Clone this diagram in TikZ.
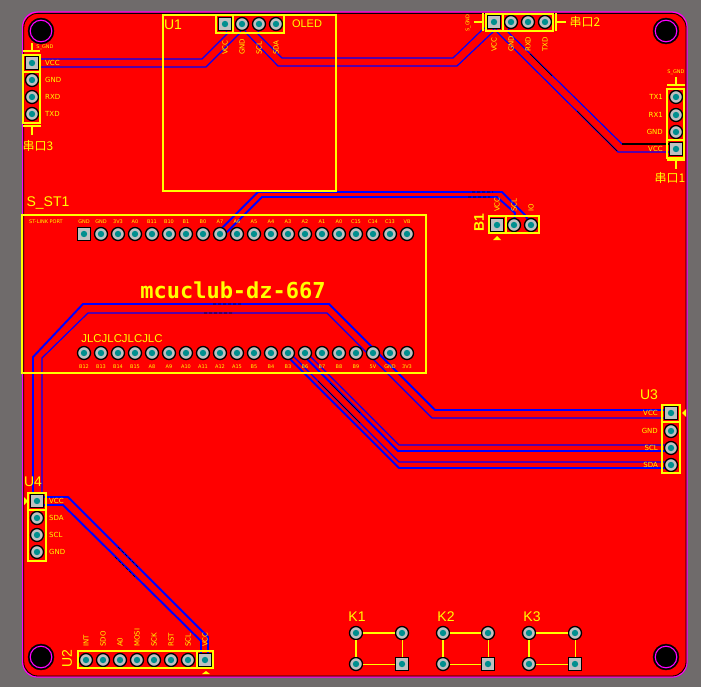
\documentclass[tikz,border=0pt]{standalone}
\usepackage{fontspec}
\usepackage{xcolor}
\usepackage{tikz}
\usetikzlibrary{backgrounds}
\setmainfont{Liberation Sans}
\newfontfamily\cjkfont{Noto Sans CJK SC}
\newfontfamily\dejafont{DejaVu Sans}
\newfontfamily\monofont{DejaVu Sans Mono}
\definecolor{bggray}{HTML}{6F6B6B}
\definecolor{padgray}{HTML}{C0C0C0}
\definecolor{padteal}{HTML}{008F8F}
\definecolor{pcbred}{HTML}{FF0000}
\definecolor{silkyellow}{HTML}{FFFF00}
\definecolor{edgepink}{HTML}{FF00FF}
\definecolor{copperblue}{HTML}{0000FF}

\begin{document}
\begin{tikzpicture} [x = 1pt, y = -1pt,
        pad/.style = {circle, draw = black, fill = padgray, line width = 1.3pt,
            minimum size = 13pt, inner sep = 0pt,
            path picture = {\fill [padteal] (path picture bounding box.center) circle (3.2pt);}},
        padsq/.style = {pad, rectangle, draw = black, minimum size = 12.5pt},
        hole/.style = {circle, draw = black, fill = black, minimum size = 26pt, inner sep = 0pt,
            path picture = {\draw [edgepink, line width = 1.1pt] (path picture bounding box.center) circle (10.8pt);}},
        silk/.style = {draw = silkyellow, line width = 1.6pt},
        silkthin/.style = {draw = silkyellow, line width = 1pt},
        trace/.style = {draw = copperblue, line width = 1.9pt, line join = miter},
        tracethin/.style = {draw = copperblue, line width = 1.2pt, line join = miter},
        tracedark/.style = {draw = black, line width = 0.7pt},
        refdes/.style = {text = silkyellow, font = \fontsize{14}{14}\selectfont},
        cjklabel/.style = {text = silkyellow, inner sep = 0pt, font = \cjkfont\fontsize{12}{12}\selectfont},
        pinlabel/.style = {text = silkyellow, inner sep = 0pt, font = \dejafont\fontsize{7}{7}\selectfont},
        tinylabel/.style = {text = silkyellow, inner sep = 0pt, font = \dejafont\fontsize{5}{5}\selectfont}]
    \useasboundingbox (0, 0) rectangle (701, 687);

    % mounting holes
    \foreach \n/\x/\y in {A/41/31, B/666/31, C/41/657, D/666/657}
        \node (hole\n) [hole] at (\x, \y) {};

    % header on the left
    \foreach \k/\y/\t [count = \i] in {padsq/63/VCC, pad/80/GND, pad/97/RXD, pad/114/TXD} {
        \node (Jthreep\i) [\k] at (32, \y) {};
        \node (Jthreet\i) [pinlabel, anchor = west] at (45, \y) {\t};
    }
    \draw [silk] (23, 55) rectangle (40, 123) (23, 72) -- (40, 72);
    \draw [silk] (23, 51) -- (40, 51) (32, 51) -- (32, 43);
    \draw [silk] (23, 126) -- (41, 126) (32, 126) -- (32, 135);
    \node (Jthreename) [cjklabel] at (38, 146) {串口3};
    \node (Jthreegnd) [tinylabel] at (45, 47) {S\_GND};

    % OLED module
    \foreach \k/\x/\t [count = \i] in {padsq/225/VCC, pad/242/GND, pad/259/SCL, pad/276/SDA} {
        \node (Uonep\i) [\k] at (\x, 24) {};
        \node (Uonet\i) [pinlabel, rotate = 90, anchor = west] at (\x, 55) {\t};
    }
    \draw [silk] (163, 15) rectangle (336, 191);
    \draw [silk] (216, 15) rectangle (284, 33) (233, 15) -- (233, 33);
    \node (Uonename) [refdes] at (173, 25) {U1};
    \node (Uoneoled) [text = silkyellow, font = \fontsize{11}{11}\selectfont] at (307, 24) {OLED};

    % header on top
    \foreach \k/\x/\t [count = \i] in {padsq/494/VCC, pad/511/GND, pad/528/RXD, pad/545/TXD} {
        \node (Jtwop\i) [\k] at (\x, 22) {};
        \node (Jtwot\i) [pinlabel, rotate = 90, anchor = west] at (\x, 52) {\t};
    }
    \draw [silk] (486, 14) rectangle (553, 31) (503, 14) -- (503, 31);
    \draw [silk] (483, 13) -- (483, 31) (483, 22) -- (474, 22);
    \draw [silk] (556, 13) -- (556, 31) (556, 22) -- (566, 22);
    \node (Jtwoname) [cjklabel] at (585, 22) {串口2};
    \node (Jtwognd) [tinylabel, rotate = 90] at (468, 23) {S\_GND};

    % header on the right
    \foreach \k/\y/\t [count = \i] in {pad/97/TX1, pad/115/RX1, pad/132/GND, padsq/149/VCC} {
        \node (Jonep\i) [\k] at (676, \y) {};
        \node (Jonet\i) [pinlabel, anchor = east] at (663, \y) {\t};
    }
    \draw [silk] (667, 89) rectangle (684, 158) (667, 140) -- (684, 140);
    \draw [silk] (667, 85) -- (685, 85) (676, 85) -- (676, 77);
    \draw [silk] (667, 160) -- (685, 160) (676, 160) -- (676, 169);
    \node (Jonename) [cjklabel] at (670, 178) {串口1};
    \node (Jonegnd) [tinylabel] at (676, 72) {S\_GND};

    % B1
    \foreach \k/\x/\t [count = \i] in {padsq/497/VCC, pad/514/SCL, pad/531/IO} {
        \node (Bonep\i) [\k] at (\x, 225) {};
        \node (Bonet\i) [pinlabel, rotate = 90, anchor = west] at (\x, 212) {\t};
    }
    \draw [silk] (489, 216) rectangle (539, 233) (506, 216) -- (506, 233);
    \node (Bonename) [refdes, rotate = 90, font = \bfseries\fontsize{14}{14}\selectfont] at (479, 223) {B1};
    \fill [silkyellow] (497, 236) -- (501, 240) -- (493, 240) -- cycle;

    % core board
    \foreach \t [count = \i, evaluate = \i as \x using 67 + 17 * \i] in
        {GND, GND, 3V3, A0, B11, B10, B1, B0, A7, A6, A5, A4, A3, A2, A1, A0, C15, C14, C13, VB} {
        \ifnum\i=1 \node (Topp\i) [padsq] at (\x, 234) {};
        \else \node (Topp\i) [pad] at (\x, 234) {}; \fi
        \node (Topt\i) [tinylabel] at (\x, 222) {\t};
    }
    \foreach \t [count = \i, evaluate = \i as \x using 67 + 17 * \i] in
        {B12, B13, B14, B15, A8, A9, A10, A11, A12, A15, B5, B4, B3, B6, B7, B8, B9, 5V, GND, 3V3} {
        \node (Botp\i) [pad] at (\x, 353) {};
        \node (Bott\i) [tinylabel] at (\x, 367) {\t};
    }
    \draw [silk] (22, 215) rectangle (426, 373);
    \node (Stname) [refdes] at (48, 203) {S\_ST1};
    \node (Stlink) [tinylabel] at (46, 222) {ST-LINK PORT};
    \node (Sttitle) [text = silkyellow, font = \monofont\bfseries\fontsize{22}{22}\selectfont] at (233, 290) {mcuclub-dz-667};
    \node (Stjlc) [text = silkyellow, font = \fontsize{11.4}{12}\selectfont] at (122, 339) {JLCJLCJLCJLC};

    % U3
    \foreach \k/\y/\t [count = \i] in {padsq/413/VCC, pad/431/GND, pad/448/SCL, pad/465/SDA} {
        \node (Uthreep\i) [\k] at (671, \y) {};
        \node (Uthreet\i) [pinlabel, anchor = east] at (658, \y) {\t};
    }
    \draw [silk] (662, 405) rectangle (680, 473) (662, 422) -- (680, 422);
    \node (Uthreename) [refdes] at (649, 395) {U3};
    \fill [silkyellow] (682, 413) -- (686, 409) -- (686, 417) -- cycle;

    % U4
    \foreach \k/\y/\t [count = \i] in {padsq/501/VCC, pad/518/SDA, pad/535/SCL, pad/552/GND} {
        \node (Ufourp\i) [\k] at (37, \y) {};
        \node (Ufourt\i) [pinlabel, anchor = west] at (49, \y) {\t};
    }
    \draw [silk] (28, 493) rectangle (46, 561) (28, 510) -- (46, 510);
    \node (Ufourname) [refdes] at (33, 482) {U4};
    \fill [silkyellow] (28, 501) -- (24, 497) -- (24, 505) -- cycle;

    % U2
    \foreach \k/\x/\t [count = \i] in {pad/86/INT, pad/103/SDO, pad/120/A0, pad/137/MOSI,
            pad/154/SCK, pad/171/RST, pad/188/SCL, padsq/205/VCC} {
        \node (Utwop\i) [\k] at (\x, 660) {};
        \node (Utwot\i) [pinlabel, rotate = 90, anchor = west] at (\x, 647) {\t};
    }
    \draw [silk] (78, 651) rectangle (213, 668) (197, 651) -- (197, 668);
    \node (Utwoname) [refdes, rotate = 90] at (67, 659) {U2};
    \fill [silkyellow] (206, 671) -- (210, 674) -- (202, 674) -- cycle;

    % keys
    \foreach \n/\xa/\xb/\xt in {1/356/402/357, 2/443/488/446, 3/529/575/532} {
        \node (Kap\n) [pad] at (\xa, 633) {};
        \node (Kbp\n) [pad] at (\xb, 633) {};
        \node (Kcp\n) [pad] at (\xa, 664) {};
        \node (Kdp\n) [padsq] at (\xb, 664) {};
        \node (Kname\n) [refdes] at (\xt, 617) {K\n};
        \draw [silk] (Kap\n) -- (Kbp\n) (Kap\n) -- (Kcp\n);
        \draw [silkthin] (Kcp\n) -- (Kdp\n) (Kbp\n) -- (Kdp\n);
    }

    \begin{scope} [on background layer]
        \fill [bggray] (0, 0) rectangle (701, 687);
        \draw [edgepink, line width = 1.2pt, fill = pcbred, rounded corners = 15pt]
            (22.6, 12) rectangle (687, 677);
        \draw [black, line width = 0.8pt, rounded corners = 14pt]
            (23.8, 13.4) rectangle (686, 676);

        % traces, pad to pad
        \draw [tracethin] ([yshift = 4pt] Jthreep1.center) -- (202, 59) -- (227, 34) -- (Uonep1);
        \draw [tracethin] ([yshift = -4pt] Jthreep1.center) -- (206, 67) -- (240, 33) -- (Uonep2);
        \draw [tracethin] (Uonep3) -- (258, 34) -- (282, 58) -- (453, 58) -- (482, 30) -- (Jtwop1);
        \draw [tracethin] (Uonep2) -- (247, 34) -- (278, 66) -- (457, 66) -- (493, 32) -- (Jtwop1);
        \draw [tracethin] (Jtwop1) -- (497, 32) -- (618, 152) -- ([yshift = -3pt] Jonep4.center);
        \draw [tracethin] (Jtwop2) -- (508, 32) -- (622, 144) -- ([yshift = 5pt] Jonep4.center);
        \draw [tracedark, line width = 1.2pt] (622, 144) -- ([yshift = 5pt] Jonep4.center);
        \draw [trace] (Topp9) -- (222, 228) -- (258, 192) -- (502, 192) -- (525, 215) -- (Bonep3);
        \draw [trace] (Topp9) -- (227, 232) -- (262, 197) -- (497, 197) -- (515, 213) -- (Bonep2);
        \draw [trace] ([xshift = -4pt] Ufourp1.center) -- (33, 357) -- (83, 304) -- (329, 304)
            -- (435, 410) -- ([yshift = 3pt] Uthreep1.center);
        \draw [tracethin] ([xshift = 5pt] Ufourp1.center) -- (42, 358) -- (88, 313) -- (327, 313)
            -- (432, 418) -- ([yshift = -5pt] Uthreep1.center);
        \draw [tracethin] ([xshift = 2pt] Botp14.center) -- (399, 445) -- ([yshift = 3pt] Uthreep3.center);
        \draw [trace] ([yshift = -4pt] Botp14.center) -- (398, 451) -- ([yshift = -3pt] Uthreep3.center);
        \draw [tracethin] ([xshift = 2pt] Botp13.center) -- (399, 462) -- ([yshift = 3pt] Uthreep4.center);
        \draw [trace] ([yshift = -4pt] Botp13.center) -- (399, 468) -- ([yshift = -3pt] Uthreep4.center);
        \draw [trace] ([yshift = 4pt] Ufourp1.center) -- (68, 497) -- (208, 637) -- ([xshift = 3pt] Utwop8.center);
        \draw [trace] ([yshift = -4pt] Ufourp1.center) -- (63, 505) -- (201, 641) -- ([xshift = -4pt] Utwop8.center);

        % dark stretches along the traces
        \draw [tracedark, dashed, dash pattern = on 3pt off 2pt]
            (472, 192) -- (493, 192) (468, 197) -- (490, 197)
            (213, 304) -- (241, 304) (204, 313) -- (232, 313)
            (118, 547) -- (138, 567) (115, 557) -- (136, 578);
        \draw [tracedark] (530, 54) -- (552, 76) (577, 111) -- (617, 151)
            (318, 381) -- (360, 423) (330, 383) -- (360, 413);
    \end{scope}
\end{tikzpicture}
\end{document}
